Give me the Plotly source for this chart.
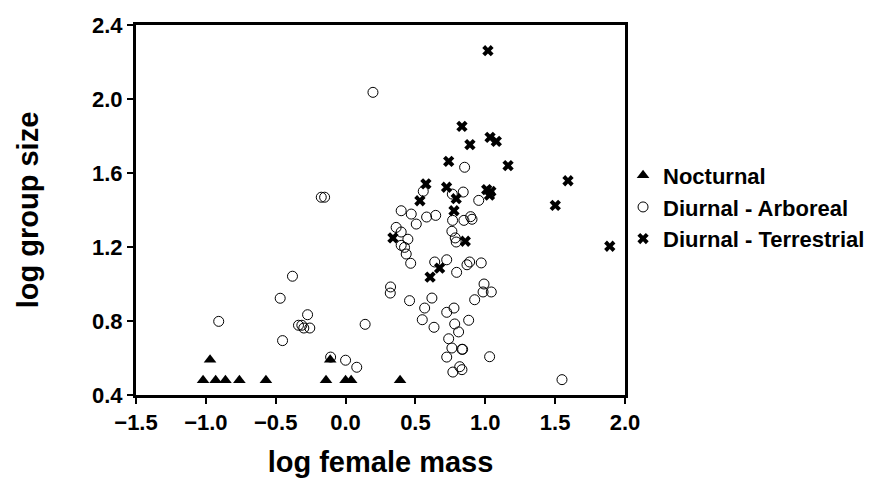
import plotly.graph_objects as go

# ---- data ----
nocturnal_x = [-1.02, -0.93, -0.86, -0.76, -0.57, -0.14, 0.00, 0.04, 0.39, -0.97, -0.11]
nocturnal_y = [0.48, 0.48, 0.48, 0.48, 0.48, 0.48, 0.48, 0.48, 0.48, 0.59, 0.59]

arboreal_x = [-0.174, -0.150, 0.196, -0.380, -0.468, -0.908, -0.272, -0.337, -0.313, -0.299,
              -0.256, -0.451, -0.107, 0.000, 0.080, 0.140, 0.852, 0.556, 0.842, 0.764,
              0.953, 0.398, 0.470, 0.506, 0.580, 0.645, 0.362, 0.398, 0.446, 0.398,
              0.422, 0.434, 0.466, 0.766, 0.847, 0.895, 0.905, 0.761, 0.785, 0.792,
              0.638, 0.724, 0.795, 0.869, 0.888, 0.971, 0.322, 0.320, 0.458, 0.618,
              0.566, 0.549, 0.633, 0.724, 0.776, 0.781, 0.881, 0.809, 0.738, 0.761,
              0.833, 0.838, 0.724, 0.768, 0.817, 0.833, 1.031, 0.991, 0.984, 1.043,
              0.924, 1.549]
arboreal_y = [1.469, 1.469, 2.036, 1.042, 0.923, 0.798, 0.834, 0.777, 0.777, 0.762,
              0.762, 0.694, 0.605, 0.588, 0.550, 0.782, 1.631, 1.501, 1.497, 1.486,
              1.452, 1.396, 1.378, 1.324, 1.362, 1.371, 1.306, 1.281, 1.242, 1.209,
              1.198, 1.162, 1.112, 1.344, 1.344, 1.364, 1.350, 1.285, 1.249, 1.227,
              1.119, 1.131, 1.063, 1.104, 1.119, 1.114, 0.984, 0.951, 0.910, 0.924,
              0.870, 0.807, 0.766, 0.847, 0.870, 0.784, 0.804, 0.741, 0.704, 0.654,
              0.647, 0.647, 0.605, 0.524, 0.553, 0.537, 0.607, 1.000, 0.957, 0.957,
              0.915, 0.483]

terrestrial_x = [1.019, 0.833, 1.034, 1.079, 0.890, 0.738, 1.163, 0.575, 0.532, 0.723,
                 0.792, 1.010, 1.030, 1.040, 0.776, 0.857, 0.339, 0.673, 0.605, 1.592,
                 1.501, 1.891]
terrestrial_y = [2.261, 1.852, 1.793, 1.771, 1.753, 1.663, 1.640, 1.541, 1.450, 1.523,
                 1.461, 1.510, 1.480, 1.500, 1.396, 1.231, 1.249, 1.086, 1.037, 1.558,
                 1.425, 1.204]

series_names = ["Nocturnal", "Diurnal - Arboreal", "Diurnal - Terrestrial"]
x_ticks = [-1.5, -1.0, -0.5, 0.0, 0.5, 1.0, 1.5, 2.0]
y_ticks = [0.4, 0.8, 1.2, 1.6, 2.0, 2.4]

FONT = "Liberation Sans"

fig = go.Figure()
fig.add_trace(go.Scatter(
    x=nocturnal_x, y=nocturnal_y, mode="markers", name=series_names[0],
    marker=dict(symbol="triangle-up", size=11, color="black", line=dict(width=0))))
fig.add_trace(go.Scatter(
    x=arboreal_x, y=arboreal_y, mode="markers", name=series_names[1],
    marker=dict(symbol="circle-open", size=10, color="black", line=dict(width=1, color="black"))))
fig.add_trace(go.Scatter(
    x=terrestrial_x, y=terrestrial_y, mode="markers", name=series_names[2],
    marker=dict(symbol="x", size=10, color="black", line=dict(width=0))))

axis_common = dict(
    showgrid=False, zeroline=False, showline=True, linecolor="black", linewidth=3,
    mirror=True, ticks="outside", ticklen=6, tickwidth=2, tickcolor="black",
    tickfont=dict(family=FONT, size=22, color="black", weight="bold"),
    tickformat=".1f", automargin=False,
)

fig.update_xaxes(range=[-1.5, 2.0], tickvals=x_ticks, **axis_common,
                 title=dict(text="log female mass", standoff=18,
                            font=dict(family=FONT, size=29, color="black", weight="bold")))
fig.update_yaxes(range=[0.4, 2.4], tickvals=y_ticks, **axis_common,
                 title=dict(text="log group size", standoff=45,
                            font=dict(family=FONT, size=29, color="black", weight="bold")))

fig.update_layout(
    width=881, height=483,
    margin=dict(l=128, r=264, t=17, b=96, autoexpand=False),
    plot_bgcolor="white", paper_bgcolor="white",
    showlegend=True,
    legend=dict(x=0.996, y=0.508, xanchor="left", yanchor="middle",
                font=dict(family=FONT, size=22, color="black", weight="bold"),
                bgcolor="rgba(0,0,0,0)", itemsizing="trace"),
)

fig.write_html("out.html")
